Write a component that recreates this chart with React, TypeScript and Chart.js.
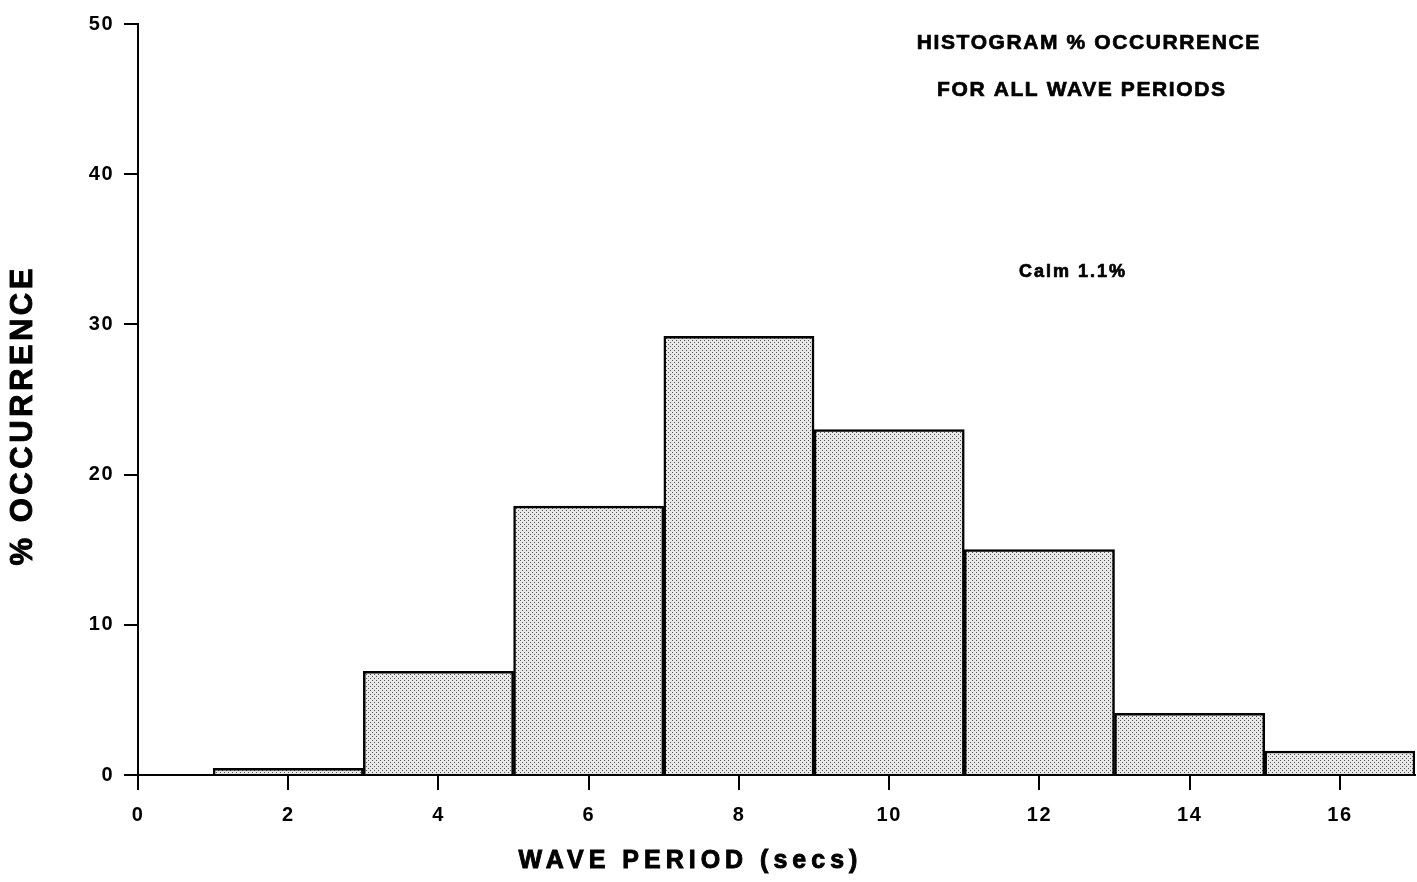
import React, { useEffect, useRef } from "react";
import { Chart, registerables } from "chart.js";

Chart.register(...registerables);

// Wave period bins (secs): each bar spans [start, end)
const binStarts = [1, 3, 5, 7, 9, 11, 13, 15];
const binEnds = [3, 5, 7, 9, 11, 13, 15, 17];
// Percentage occurrence per bin
const occurrence = [0.45, 6.9, 17.9, 29.2, 23.0, 15.0, 4.1, 1.6];

const xTicks = [0, 2, 4, 6, 8, 10, 12, 14, 16];
const yTicks = [0, 10, 20, 30, 40, 50];

const titleLines = ["HISTOGRAM % OCCURRENCE", "FOR ALL WAVE PERIODS"];
const calmNote = "Calm 1.1%";
const xTitle = "WAVE PERIOD (secs)";
const yTitle = "% OCCURRENCE";

const FONT = "'Liberation Sans', Arial, Helvetica, sans-serif";

function makeStipple(): CanvasPattern | string {
  const tile = document.createElement("canvas");
  tile.width = 4;
  tile.height = 4;
  const c = tile.getContext("2d");
  if (!c) return "#e0e0e0";
  c.fillStyle = "#e8e8e8";
  c.fillRect(0, 0, 4, 4);
  c.fillStyle = "#555";
  c.fillRect(0, 0, 1, 1);
  c.fillRect(2, 2, 1, 1);
  const p = c.createPattern(tile, "repeat");
  return p || "#e0e0e0";
}

// Centered text with letter spacing and a thin stroke for a heavier print look
function drawSpaced(
  ctx: CanvasRenderingContext2D,
  text: string,
  x: number,
  y: number,
  font: string,
  spacing: number,
  weight = 0.7
) {
  ctx.font = font;
  (ctx as any).letterSpacing = spacing + "px";
  const w = ctx.measureText(text).width - spacing;
  ctx.textAlign = "left";
  ctx.textBaseline = "middle";
  ctx.fillText(text, x - w / 2, y);
  if (weight > 0) {
    ctx.lineWidth = weight;
    ctx.strokeText(text, x - w / 2, y);
  }
}

const textPlugin = {
  id: "histText",
  beforeDraw(chart: Chart) {
    // wider spacing for the axis tick numerals
    (chart.ctx as any).letterSpacing = "1.5px";
  },
  beforeDatasetsDraw(chart: Chart) {
    (chart.ctx as any).letterSpacing = "0px";
  },
  afterDraw(chart: Chart) {
    const ctx = chart.ctx;
    ctx.save();
    ctx.fillStyle = "#000";
    ctx.strokeStyle = "#000";
    drawSpaced(ctx, titleLines[0], 1088, 43, `bold 21px ${FONT}`, 1.6);
    drawSpaced(ctx, titleLines[1], 1081, 90, `bold 21px ${FONT}`, 1.6);
    drawSpaced(ctx, calmNote, 1072, 272, `bold 18px ${FONT}`, 2);
    drawSpaced(ctx, xTitle, 688, 861, `bold 25px ${FONT}`, 5, 0.9);
    ctx.save();
    ctx.translate(23, 417);
    ctx.rotate(-Math.PI / 2);
    drawSpaced(ctx, yTitle, 0, 0, `bold 31px ${FONT}`, 3.5, 0.9);
    ctx.restore();
    (ctx as any).letterSpacing = "0px";
    ctx.restore();
  },
};

export default function App() {
  const ref = useRef<HTMLCanvasElement>(null);

  useEffect(() => {
    if (!ref.current) return;
    const stipple = makeStipple();
    const points = occurrence.map((v, i) => ({
      x: (binStarts[i] + binEnds[i]) / 2,
      y: v,
    }));

    const chart = new Chart(ref.current, {
      type: "bar",
      data: {
        datasets: [
          {
            data: points as any,
            backgroundColor: stipple as any,
            borderColor: "#000",
            borderWidth: 2.5,
            barPercentage: 1,
            categoryPercentage: 1,
          },
        ],
      },
      options: {
        responsive: false,
        animation: false,
        layout: { padding: { top: 24, right: 2, left: 0, bottom: 0 } },
        plugins: {
          legend: { display: false },
          tooltip: { enabled: false },
          title: { display: false },
        },
        scales: {
          x: {
            type: "linear",
            min: 0,
            max: 17,
            offset: false,
            afterBuildTicks: (scale: any) => {
              scale.ticks = xTicks.map((v) => ({ value: v }));
            },
            afterFit: (scale: any) => {
              scale.height = 107;
            },
            ticks: {
              color: "#000",
              padding: 13,
              maxRotation: 0,
              font: { family: FONT, size: 20, weight: "bold" },
            },
            grid: {
              offset: false,
              drawOnChartArea: false,
              drawTicks: true,
              tickLength: 15,
              color: "#000",
              lineWidth: 2,
            },
            border: { display: true, color: "#000", width: 2 },
          },
          y: {
            type: "linear",
            min: 0,
            max: 50,
            afterBuildTicks: (scale: any) => {
              scale.ticks = yTicks.map((v) => ({ value: v }));
            },
            afterFit: (scale: any) => {
              scale.width = 138;
            },
            ticks: {
              color: "#000",
              padding: 10,
              font: { family: FONT, size: 20, weight: "bold" },
            },
            grid: {
              drawOnChartArea: false,
              drawTicks: true,
              tickLength: 14,
              color: "#000",
              lineWidth: 2,
            },
            border: { display: true, color: "#000", width: 2 },
          },
        },
      },
      plugins: [textPlugin],
    });

    return () => chart.destroy();
  }, []);

  return (
    <div style={{ position: "fixed", left: 0, top: 0, background: "#fff" }}>
      <canvas ref={ref} width={1417} height={882} />
    </div>
  );
}
